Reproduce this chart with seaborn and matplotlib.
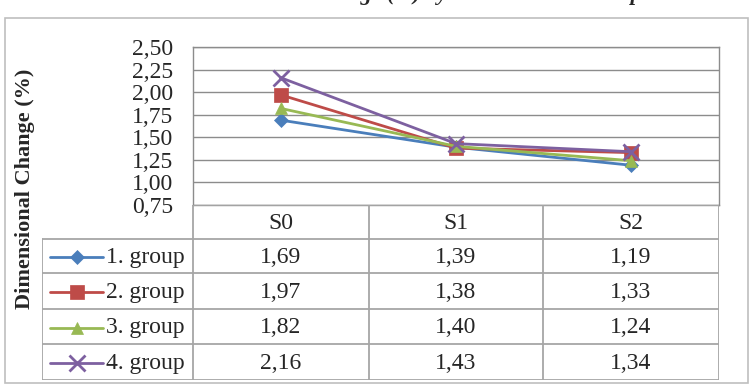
import matplotlib
matplotlib.use("Agg")
import matplotlib.pyplot as plt
import seaborn as sns
import pandas as pd
from matplotlib.lines import Line2D
from matplotlib.patches import Rectangle

stages = ["S0", "S1", "S2"]
groups = ["1. group", "2. group", "3. group", "4. group"]
group1 = [1.69, 1.39, 1.19]
group2 = [1.97, 1.38, 1.33]
group3 = [1.82, 1.40, 1.24]
group4 = [2.16, 1.43, 1.34]
yticks = [0.75, 1.00, 1.25, 1.50, 1.75, 2.00, 2.25, 2.50]

colors = ["#4A7EBB", "#BE4B48", "#98B954", "#7D60A0"]
markers = ["D", "s", "^", "x"]
msizes = [7, 10, 9, 11]

values = [group1, group2, group3, group4]
df = pd.DataFrame({
    "stage": stages * 4,
    "pos": list(range(3)) * 4,
    "group": [g for g in groups for _ in stages],
    "value": group1 + group2 + group3 + group4,
})

sns.set_style("white")
plt.rcParams["font.family"] = ["Liberation Serif", "DejaVu Serif"]

W, H = 753, 385
FS = 17
fig = plt.figure(figsize=(W / 100, H / 100), dpi=100)

def box(x0, y0, x1, y1):
    return [x0 / W, 1 - y1 / H, (x1 - x0) / W, (y1 - y0) / H]

def mew(m):
    return 2 if m == "x" else 0.5

def fmt(v):
    return f"{v:.2f}".replace(".", ",")

# outer chart frame
fig.patches.append(Rectangle((5 / W, 2 / H), 743 / W, 1 - 18 / H - 2 / H,
                             transform=fig.transFigure, fill=False,
                             edgecolor="#BFBFBF", linewidth=1.2))

# title, mostly cut off by the top edge as in the source image
fig.text(0.55, 1.0, "Dimensional Change (%) by Time in Each Group",
         ha="center", va="baseline", fontsize=16, fontweight="bold",
         fontstyle="italic")

# line plot area
ax = fig.add_axes(box(193, 47, 719, 205))
for g, c, m, s in zip(groups, colors, markers, msizes):
    sub = df[df["group"] == g]
    sns.lineplot(data=sub, x="pos", y="value", color=c, marker=m,
                 markersize=s, markeredgewidth=mew(m), markeredgecolor=c,
                 linewidth=2, ax=ax)
ax.set_xlim(-0.5, 2.5)
ax.set_ylim(0.75, 2.5)
ax.set_yticks(yticks)
ax.set_yticklabels([fmt(v) for v in yticks], fontsize=FS)
ax.set_xticks([])
ax.set_xlabel("")
ax.set_ylabel("")
ax.tick_params(axis="y", length=0, pad=14)
ax.grid(axis="y", color="#8C8C8C", linewidth=1)
for sp in ax.spines.values():
    sp.set_color("#8C8C8C")
    sp.set_linewidth(1)
ax.set_axisbelow(True)

# data table below the plot
tx = fig.add_axes(box(42, 205, 719, 380))
tx.set_xlim(42, 719)
tx.set_ylim(380, 205)
tx.axis("off")
cols = [42, 193, 369, 543, 719]
rows = [205, 239, 273, 309, 344, 380]
gc = "#A6A6A6"
tx.plot([193, 719], [205, 205], color=gc, lw=1.3)
for c in cols[1:]:
    tx.plot([c, c], [205, 380], color=gc, lw=1.3)
tx.plot([42, 42], [239, 380], color=gc, lw=1.3)
for r in rows[1:]:
    tx.plot([42, 719], [r, r], color=gc, lw=1.3)
for j, s in enumerate(stages):
    tx.text((cols[j + 1] + cols[j + 2]) / 2, (rows[0] + rows[1]) / 2 + 1, s,
            ha="center", va="center", fontsize=FS)
for i, (g, vals) in enumerate(zip(groups, values)):
    yc = (rows[i + 1] + rows[i + 2]) / 2 + 1
    tx.add_line(Line2D([50, 103], [yc, yc], color=colors[i], lw=2))
    tx.plot([76.5], [yc], marker=markers[i], color=colors[i],
            markeredgecolor=colors[i], markersize=msizes[i],
            markeredgewidth=mew(markers[i]))
    tx.text(106, yc, g, ha="left", va="center", fontsize=FS)
    for j, v in enumerate(vals):
        tx.text((cols[j + 1] + cols[j + 2]) / 2, yc, fmt(v),
                ha="center", va="center", fontsize=FS)

# y axis label
fig.text(25 / W, 1 - 189 / H, "Dimensional Change (%)", rotation=90,
         ha="center", va="center", fontsize=16, fontweight="bold")

fig.savefig("out.png", dpi=100)
